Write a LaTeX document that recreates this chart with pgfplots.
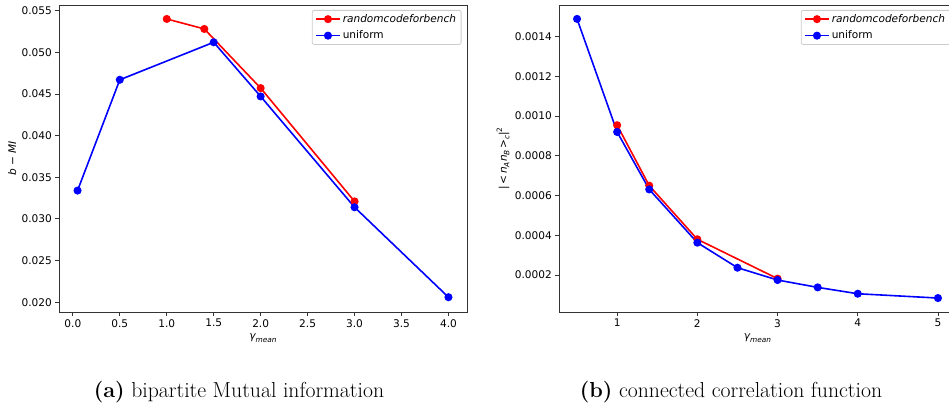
\documentclass[border=0pt]{standalone}
\usepackage{fontspec}
\usepackage{pgfplots}
\pgfplotsset{compat=1.18}
\newfontfamily\dejavu{DejaVu Sans}
\newcommand{\tickfont}{\dejavu\fontsize{10.6}{12}\selectfont}
\newcommand{\subfont}{\fontsize{7.4}{8}\selectfont}
\definecolor{legframe}{HTML}{CCCCCC}
\definecolor{axframe}{HTML}{333333}
\pgfplotsset{
 mystyle/.style={
  scale only axis,
  axis line style={axframe, line width=0.85bp},
  every tick/.style={axframe, line width=0.85bp},
  major tick length=3.7bp,
  tick align=outside,
  tick pos=left,
  ticklabel style={font=\tickfont},
  /pgf/number format/assume math mode=true,
  label style={font=\tickfont},
  scaled ticks=false,
  legend style={font=\tickfont, draw=legframe, rounded corners=2bp, line width=0.8bp,
    at={(rel axis cs:1,1)}, anchor=north east, xshift=-5.5bp, yshift=-5bp,
    cells={anchor=west}, inner xsep=3bp, inner ysep=2bp, row sep=3bp},
  legend image code/.code={\draw[mark repeat=2,mark phase=2] plot coordinates {(0bp,0bp)(12bp,0bp)(24bp,0bp)};},
  every axis plot/.append style={line width=1.6bp, mark=*, mark size=3.2bp, mark options={solid}},
 }
}
\begin{document}
\begin{tikzpicture}
\begin{axis}[mystyle, at={(59bp,96bp)}, anchor=south west, width=408bp, height=307bp,
  xmin=-0.1475, xmax=4.1975, ymin=0.018825, ymax=0.055675,
  xtick={0,0.5,1,1.5,2,2.5,3,3.5,4},
  xticklabel style={/pgf/number format/.cd, fixed, fixed zerofill, precision=1},
  ytick={0.020,0.025,0.030,0.035,0.040,0.045,0.050,0.055},
  yticklabel style={/pgf/number format/.cd, fixed, fixed zerofill, precision=3},
  xlabel={{\itshape γ}\raisebox{-0.25em}{\subfont\itshape mean}},
  ylabel={{\itshape b} − {\itshape MI}},
  xlabel style={at={(rel axis cs:0.5,-0.0847)}, anchor=center},
  ylabel style={at={(rel axis cs:-0.115,0.5)}, anchor=center},
]
\addplot[red, mark options={fill=red, draw=red}] coordinates {(1.0,0.0540) (1.4,0.0528) (2.0,0.0457) (3.0,0.0321)};
\addlegendentry{\itshape randomcodeforbench}
\addplot[blue, mark options={fill=blue, draw=blue}] coordinates {(0.05,0.0334) (0.5,0.0467) (1.5,0.0512) (2.0,0.0447) (3.0,0.0314) (4.0,0.0206)};
\addlegendentry{uniform}
\end{axis}
\begin{axis}[mystyle, at={(559bp,96bp)}, anchor=south west, width=397bp, height=307bp,
  xmin=0.275, xmax=5.225, ymin=0.0000141, ymax=0.001559,
  xtick={1,2,3,4,5},
  ytick={0.0002,0.0004,0.0006,0.0008,0.0010,0.0012,0.0014},
  yticklabel style={/pgf/number format/.cd, fixed, fixed zerofill, precision=4},
  xlabel={{\itshape γ}\raisebox{-0.25em}{\subfont\itshape mean}},
  ylabel={|\,<\,{\itshape n}\raisebox{-0.25em}{\subfont\itshape A}{\itshape n}\raisebox{-0.25em}{\subfont\itshape B}\,>\raisebox{-0.25em}{\subfont\itshape c}|\raisebox{0.45em}{\subfont 2}},
  xlabel style={at={(rel axis cs:0.5,-0.0847)}, anchor=center},
  ylabel style={at={(rel axis cs:-0.141,0.5)}, anchor=center},
]
\addplot[red, mark options={fill=red, draw=red}] coordinates {(1.0,0.000954) (1.4,0.000650) (2.0,0.000380) (3.0,0.000182)};
\addlegendentry{\itshape randomcodeforbench}
\addplot[blue, mark options={fill=blue, draw=blue}] coordinates {(0.5,0.001489) (1.0,0.000920) (1.4,0.000631) (2.0,0.000363) (2.5,0.000237) (3.0,0.000175) (3.5,0.000138) (4.0,0.000106) (5.0,0.0000843)};
\addlegendentry{uniform}
\end{axis}
\node[anchor=base, font=\fontsize{21.8}{24}\selectfont] at (239bp,11bp) {\textbf{(a)} bipartite Mutual information};
\node[anchor=base, font=\fontsize{21.8}{24}\selectfont] at (731bp,11bp) {\textbf{(b)} connected correlation function};
\pgfresetboundingbox
\path[use as bounding box] (0,0) rectangle (949bp,408bp);
\end{tikzpicture}
\end{document}
